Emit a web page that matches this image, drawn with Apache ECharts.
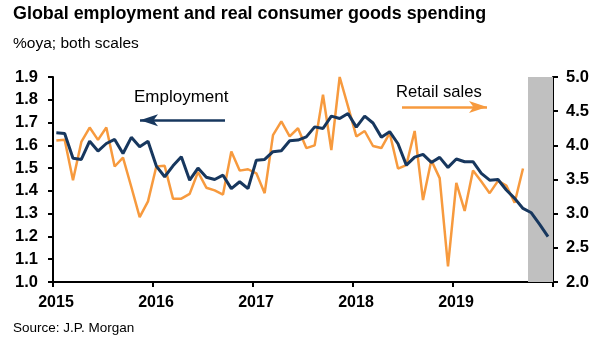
<!DOCTYPE html>
<html>
<head>
<meta charset="utf-8">
<script src="https://cdn.jsdelivr.net/npm/echarts@6/dist/echarts.min.js"></script>
<style>
html,body{margin:0;padding:0;background:#fff;}
#chart{width:605px;height:341px;}
</style>
</head>
<body>
<div id="chart"></div>
<script>
// ---- Data ----
const startYear = 2015;
const yearTicks = [2015, 2016, 2017, 2018, 2019];
// Global employment, %oya (left scale), monthly Jan 2015 - Dec 2019
const employment = [
  1.655, 1.652, 1.543, 1.538, 1.618, 1.575, 1.608, 1.626, 1.564, 1.635, 1.594, 1.618,
  1.509, 1.462, 1.510, 1.550, 1.447, 1.500, 1.460, 1.450, 1.469, 1.410, 1.440, 1.410,
  1.535, 1.538, 1.572, 1.576, 1.620, 1.623, 1.637, 1.681, 1.674, 1.728, 1.718, 1.740,
  1.680, 1.728, 1.698, 1.636, 1.660, 1.607, 1.513, 1.548, 1.560, 1.525, 1.547, 1.503,
  1.540, 1.528, 1.528, 1.477, 1.447, 1.450, 1.404, 1.367, 1.323, 1.304, 1.253, 1.199
];
// Real consumer goods spending (retail sales), %oya (right scale), Jan 2015 - Sep 2019
const retailSales = [
  4.07, 4.08, 3.49, 4.05, 4.26, 4.08, 4.26, 3.69, 3.82, 3.39, 2.95, 3.18,
  3.69, 3.70, 3.22, 3.22, 3.29, 3.61, 3.38, 3.34, 3.28, 3.91, 3.63, 3.65,
  3.59, 3.30, 4.15, 4.35, 4.13, 4.25, 3.96, 4.00, 4.74, 3.93, 5.00, 4.57,
  4.13, 4.21, 3.99, 3.96, 4.18, 3.66, 3.71, 4.21, 3.20, 3.78, 3.52, 2.23,
  3.45, 3.04, 3.63, 3.47, 3.30, 3.48, 3.41, 3.16, 3.66
];
// forecast shading: Oct 2019 - end of 2019
const forecastStart = '2019-10';
const forecastEnd = '2020-01';

// month labels
const months = [];
for (let y = 2015; y <= 2019; y++) for (let m = 1; m <= 12; m++) months.push(y + '-' + String(m).padStart(2, '0'));
function monthPos(s, off) {
  const [y, m] = s.split('-').map(Number);
  return y + (m - 1 + off) / 12;
}
const empData = employment.map((v, i) => [monthPos(months[i], 0.4), v]);
const retData = retailSales.map((v, i) => [monthPos(months[i], 0.4), v]);

const NAVY = '#17375e';
const ORANGE = '#f79a3e';
const FONT = '"Liberation Sans", Arial, sans-serif';

const chart = echarts.init(document.getElementById('chart'), null, {renderer: 'canvas'});
const axisCommon = {
  axisLine: {show: true, lineStyle: {color: '#000', width: 2}},
  axisTick: {show: true, inside: false, length: 5, lineStyle: {color: '#000', width: 2}},
  splitLine: {show: false},
  axisLabel: {color: '#000', fontFamily: FONT, fontWeight: 'bold', fontSize: 16.5}
};
chart.setOption({
  animation: false,
  backgroundColor: '#fff',
  grid: {left: 53, right: 52, top: 77, bottom: 59, containLabel: false},
  xAxis: {
    type: 'value', min: 2015, max: 2020, interval: 1,
    axisLine: axisCommon.axisLine, axisTick: axisCommon.axisTick, splitLine: {show: false},
    axisLabel: Object.assign({}, axisCommon.axisLabel, {
      fontSize: 16, margin: 13, padding: [0, 0, 0, 6],
      formatter: v => (yearTicks.indexOf(v) >= 0 ? String(v) : '')
    })
  },
  yAxis: [
    Object.assign({}, axisCommon, {
      type: 'value', min: 1.0, max: 1.9, interval: 0.1, position: 'left',
      axisLabel: Object.assign({}, axisCommon.axisLabel, {margin: 15, formatter: v => v.toFixed(1)})
    }),
    Object.assign({}, axisCommon, {
      type: 'value', min: 2.0, max: 5.0, interval: 0.5, position: 'right',
      axisLabel: Object.assign({}, axisCommon.axisLabel, {margin: 13, formatter: v => v.toFixed(1)})
    })
  ],
  series: [
    {
      name: 'shade', type: 'line', data: [], z: 1, silent: true,
      markArea: {
        silent: true,
        itemStyle: {color: '#c0c0c0'},
        data: [[{xAxis: monthPos(forecastStart, 0)}, {xAxis: monthPos(forecastEnd, 0)}]]
      }
    },
    {
      name: 'Retail sales', type: 'line', yAxisIndex: 1, data: retData, z: 3,
      symbol: 'none', lineStyle: {color: ORANGE, width: 2.5}, itemStyle: {color: ORANGE},
      markLine: {
        silent: true, symbol: ['none', 'arrow'], symbolSize: [9, 18],
        label: {show: false},
        lineStyle: {color: ORANGE, width: 2.5, type: 'solid'},
        data: [[{coord: [2018.49, 4.56]}, {coord: [2019.34, 4.56]}]]
      }
    },
    {
      name: 'Employment', type: 'line', yAxisIndex: 0, data: empData, z: 4,
      symbol: 'none', lineStyle: {color: NAVY, width: 3}, itemStyle: {color: NAVY},
      markLine: {
        silent: true, symbol: ['none', 'arrow'], symbolSize: [9, 18],
        label: {show: false},
        lineStyle: {color: NAVY, width: 2.5, type: 'solid'},
        data: [[{coord: [2016.72, 1.71]}, {coord: [2015.87, 1.71]}]]
      }
    }
  ],
  graphic: [
    {type: 'text', left: 13, top: 5, style: {text: 'Global employment and real consumer goods spending', font: 'bold 17.9px ' + FONT, fill: '#000'}},
    {type: 'text', left: 13, top: 36, style: {text: '%oya; both scales', font: '15.5px ' + FONT, fill: '#000'}},
    {type: 'text', left: 134, top: 89, style: {text: 'Employment', font: '17px ' + FONT, fill: '#000'}},
    {type: 'text', left: 396, top: 84, style: {text: 'Retail sales', font: '16.6px ' + FONT, fill: '#000'}},
    {type: 'text', left: 13, top: 321, style: {text: 'Source: J.P. Morgan', font: '13.5px ' + FONT, fill: '#000'}}
  ]
});
</script>
</body>
</html>
